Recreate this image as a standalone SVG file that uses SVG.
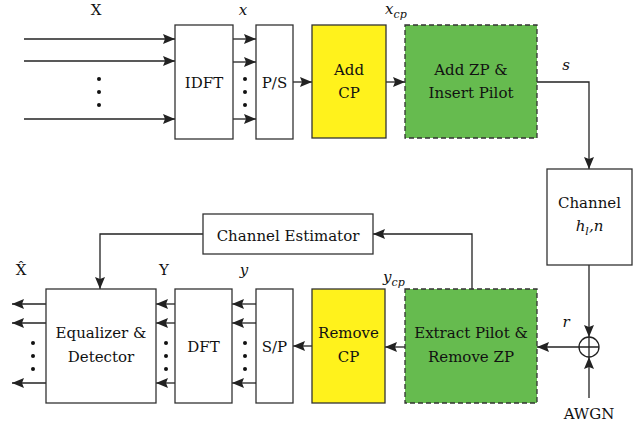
<svg xmlns="http://www.w3.org/2000/svg" width="644" height="426" viewBox="0 0 644 426">
<defs>
<marker id="ah" viewBox="0 0 12 10" refX="12" refY="5" markerWidth="12" markerHeight="10" orient="auto" markerUnits="userSpaceOnUse">
<path d="M0,0 L12,5 L0,10 L2,5 Z" fill="#222"/>
</marker>
<style>
.box{fill:#fff;stroke:#333;stroke-width:1.3}
.yel{fill:#fff21c;stroke:#333;stroke-width:1.3}
.grn{fill:#66bb4f;stroke:#333;stroke-width:1.3;stroke-dasharray:5,3}
.ln{fill:none;stroke:#222;stroke-width:1.3}
.ar{fill:none;stroke:#222;stroke-width:1.3;marker-end:url(#ah)}
text{font-family:'DejaVu Serif','Liberation Serif',serif;font-size:15px;fill:#111}
.c{text-anchor:middle}
.it{font-style:italic}
.dot{fill:#111}
</style>
</defs>

<g id="connectors">
<path class="ar" d="M24,39 H175"/>
<path class="ar" d="M24,61 H175"/>
<path class="ar" d="M24,119 H175"/>
<path class="ar" d="M233,39 H256"/>
<path class="ar" d="M233,62 H256"/>
<path class="ar" d="M233,119 H256"/>
<path class="ar" d="M293,82 H312"/>
<path class="ar" d="M386,82 H405"/>
<path class="ar" d="M537,82 H589 V169"/>
<path class="ar" d="M589,265 V337"/>
<path class="ar" d="M589,398 V357"/>
<path class="ar" d="M579,347 H537"/>
<path class="ar" d="M405,347 H385"/>
<path class="ar" d="M472,289 V234 H373"/>
<path class="ar" d="M203,234 H100 V289"/>
<path class="ar" d="M312,346 H293"/>
<path class="ar" d="M256,304 H232"/>
<path class="ar" d="M256,323 H232"/>
<path class="ar" d="M256,383 H232"/>
<path class="ar" d="M175,304 H156"/>
<path class="ar" d="M175,323 H156"/>
<path class="ar" d="M175,383 H156"/>
<path class="ar" d="M46,304 H12"/>
<path class="ar" d="M46,323 H12"/>
<path class="ar" d="M46,383 H12"/>
<g class="dot">
<circle cx="99" cy="79" r="2"/><circle cx="99" cy="92" r="2"/><circle cx="99" cy="105" r="2"/>
<circle cx="245" cy="79" r="2"/><circle cx="245" cy="92" r="2"/><circle cx="245" cy="105" r="2"/>
<circle cx="245" cy="343" r="2"/><circle cx="245" cy="356" r="2"/><circle cx="245" cy="369" r="2"/>
<circle cx="166" cy="343" r="2"/><circle cx="166" cy="356" r="2"/><circle cx="166" cy="369" r="2"/>
<circle cx="33" cy="343" r="2"/><circle cx="33" cy="356" r="2"/><circle cx="33" cy="369" r="2"/>
</g>
</g>

<g id="idft"><rect class="box" x="175" y="25" width="58" height="114"/><text class="c" x="204" y="88">IDFT</text></g>
<g id="ps"><rect class="box" x="256" y="25" width="37" height="114"/><text class="c" x="274.5" y="88">P/S</text></g>
<g id="addcp"><rect class="yel" x="312" y="25" width="74" height="113"/><text class="c" x="349" y="75">Add</text><text class="c" x="349" y="98">CP</text></g>
<g id="addzp"><rect class="grn" x="405" y="25" width="132" height="113"/><text class="c" x="471" y="75">Add ZP &amp;</text><text class="c" x="471" y="98">Insert Pilot</text></g>
<g id="channel"><rect class="box" x="547" y="169" width="85" height="96"/><text class="c" x="589.5" y="208">Channel</text><text class="c it" x="589.5" y="231">h<tspan font-size="11" dy="4">l</tspan><tspan dy="-4">,n</tspan></text></g>
<g id="adder"><circle cx="589" cy="347" r="10" fill="#fff" stroke="#222" stroke-width="1.3"/><path class="ln" d="M579,347 H599 M589,337 V357"/></g>
<g id="extract"><rect class="grn" x="405" y="289" width="132" height="114"/><text class="c" x="471" y="338">Extract Pilot &amp;</text><text class="c" x="471" y="362">Remove ZP</text></g>
<g id="removecp"><rect class="yel" x="312" y="289" width="73" height="114"/><text class="c" x="348.5" y="338">Remove</text><text class="c" x="348.5" y="362">CP</text></g>
<g id="estimator"><rect class="box" x="203" y="214" width="170" height="40"/><text class="c" x="288" y="241">Channel Estimator</text></g>
<g id="sp"><rect class="box" x="256" y="289" width="37" height="114"/><text class="c" x="274.5" y="352">S/P</text></g>
<g id="dft"><rect class="box" x="175" y="289" width="57" height="114"/><text class="c" x="203.5" y="352">DFT</text></g>
<g id="equalizer"><rect class="box" x="46" y="289" width="110" height="114"/><text class="c" x="101" y="338">Equalizer &amp;</text><text class="c" x="101" y="362">Detector</text></g>

<g id="labels">
<text class="c" x="96" y="15">X</text>
<text class="c it" x="243" y="15">x</text>
<text class="it" x="385" y="14">x<tspan font-size="11" dy="4">cp</tspan></text>
<text class="c it" x="566" y="70">s</text>
<text class="c it" x="566" y="327">r</text>
<text class="it" x="383" y="282">y<tspan font-size="11" dy="4">cp</tspan></text>
<text class="c" x="21" y="275">X̂</text>
<text class="c" x="164" y="275">Y</text>
<text class="c it" x="244" y="275">y</text>
<text class="c" x="589" y="419">AWGN</text>
</g>
</svg>
